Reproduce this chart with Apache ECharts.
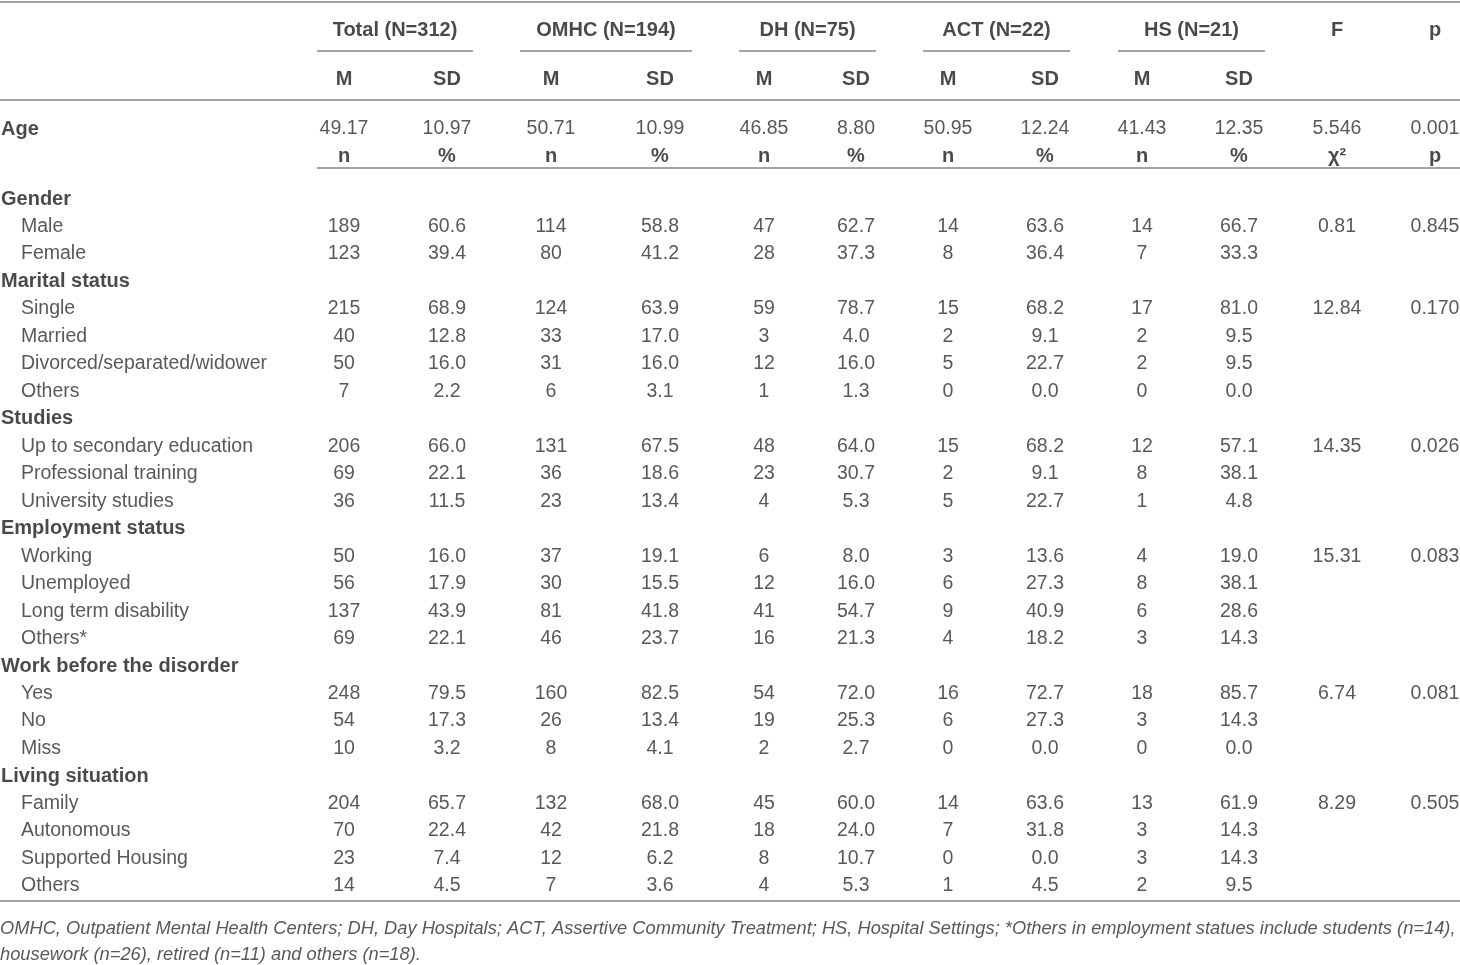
<!DOCTYPE html>
<html>
<head>
<meta charset="utf-8">
<script src="https://cdn.jsdelivr.net/npm/echarts@6/dist/echarts.min.js"></script>
<style>
  html, body { margin: 0; padding: 0; background: #fff; }
  #main { width: 1460px; height: 965px; }
</style>
</head>
<body>
<div id="main"></div>
<script>
// ---- data ----
const groupHeads = ["Total (N=312)", "OMHC (N=194)", "DH (N=75)", "ACT (N=22)", "HS (N=21)"];
const testHeads = ["F", "p"];
const statHeads = ["M", "SD", "M", "SD", "M", "SD", "M", "SD", "M", "SD"];
const countHeads = ["n", "%", "n", "%", "n", "%", "n", "%", "n", "%", "χ²", "p"];

const ageStats = [49.17, 10.97, 50.71, 10.99, 46.85, 8.8, 50.95, 12.24, 41.43, 12.35];
const ageF = 5.546;
const ageP = 0.001;

const rowLabels = [
  "Gender", "Male", "Female",
  "Marital status", "Single", "Married", "Divorced/separated/widower", "Others",
  "Studies", "Up to secondary education", "Professional training", "University studies",
  "Employment status", "Working", "Unemployed", "Long term disability", "Others*",
  "Work before the disorder", "Yes", "No", "Miss",
  "Living situation", "Family", "Autonomous", "Supported Housing", "Others"
];
const headingRows = ["Gender", "Marital status", "Studies", "Employment status", "Work before the disorder", "Living situation"];

const totalN   = [null, 189, 123, null, 215, 40, 50, 7, null, 206, 69, 36, null, 50, 56, 137, 69, null, 248, 54, 10, null, 204, 70, 23, 14];
const totalPct = [null, 60.6, 39.4, null, 68.9, 12.8, 16.0, 2.2, null, 66.0, 22.1, 11.5, null, 16.0, 17.9, 43.9, 22.1, null, 79.5, 17.3, 3.2, null, 65.7, 22.4, 7.4, 4.5];
const omhcN    = [null, 114, 80, null, 124, 33, 31, 6, null, 131, 36, 23, null, 37, 30, 81, 46, null, 160, 26, 8, null, 132, 42, 12, 7];
const omhcPct  = [null, 58.8, 41.2, null, 63.9, 17.0, 16.0, 3.1, null, 67.5, 18.6, 13.4, null, 19.1, 15.5, 41.8, 23.7, null, 82.5, 13.4, 4.1, null, 68.0, 21.8, 6.2, 3.6];
const dhN      = [null, 47, 28, null, 59, 3, 12, 1, null, 48, 23, 4, null, 6, 12, 41, 16, null, 54, 19, 2, null, 45, 18, 8, 4];
const dhPct    = [null, 62.7, 37.3, null, 78.7, 4.0, 16.0, 1.3, null, 64.0, 30.7, 5.3, null, 8.0, 16.0, 54.7, 21.3, null, 72.0, 25.3, 2.7, null, 60.0, 24.0, 10.7, 5.3];
const actN     = [null, 14, 8, null, 15, 2, 5, 0, null, 15, 2, 5, null, 3, 6, 9, 4, null, 16, 6, 0, null, 14, 7, 0, 1];
const actPct   = [null, 63.6, 36.4, null, 68.2, 9.1, 22.7, 0.0, null, 68.2, 9.1, 22.7, null, 13.6, 27.3, 40.9, 18.2, null, 72.7, 27.3, 0.0, null, 63.6, 31.8, 0.0, 4.5];
const hsN      = [null, 14, 7, null, 17, 2, 2, 0, null, 12, 8, 1, null, 4, 8, 6, 3, null, 18, 3, 0, null, 13, 3, 3, 2];
const hsPct    = [null, 66.7, 33.3, null, 81.0, 9.5, 9.5, 0.0, null, 57.1, 38.1, 4.8, null, 19.0, 38.1, 28.6, 14.3, null, 85.7, 14.3, 0.0, null, 61.9, 14.3, 14.3, 9.5];
const chiSq    = [null, 0.81, null, null, 12.84, null, null, null, null, 14.35, null, null, null, 15.31, null, null, null, null, 6.74, null, null, null, 8.29, null, null, null];
const chiP     = [null, 0.845, null, null, 0.170, null, null, null, null, 0.026, null, null, null, 0.083, null, null, null, null, 0.081, null, null, null, 0.505, null, null, null];

const footnote = [
  "OMHC, Outpatient Mental Health Centers; DH, Day Hospitals; ACT, Assertive Community Treatment; HS, Hospital Settings; *Others in employment statues include students (n=14),",
  "housework (n=26), retired (n=11) and others (n=18)."
];

// ---- layout ----
const W = 1460, H = 965;
const colX = [344, 447, 551, 660, 764, 856, 948, 1045, 1142, 1239, 1337, 1435];
const groupSpans = [[317, 473], [520, 692], [739, 876], [923, 1070], [1118, 1265]];
const headY = 30, subY = 79, ageY = 129, countY = 156;
const bodyTop = 199, rowStep = 27.48;
const footY = [929, 955];
const FONT = "'Liberation Sans', Arial, Helvetica, sans-serif";
const TEXT = "#2e2e2e";
const BOLD = "#1c1c1c";
const RULE = "#a3a3a3";

const columns = [
  { v: totalN, d: 0 }, { v: totalPct, d: 1 },
  { v: omhcN, d: 0 }, { v: omhcPct, d: 1 },
  { v: dhN, d: 0 }, { v: dhPct, d: 1 },
  { v: actN, d: 0 }, { v: actPct, d: 1 },
  { v: hsN, d: 0 }, { v: hsPct, d: 1 },
  { v: chiSq, d: 2 }, { v: chiP, d: 3 }
];

const cells = [];
const cell = (text, x, y, opts = {}) => {
  cells.push({
    name: text,
    value: [x, y],
    label: {
      align: opts.align || "center",
      fontWeight: opts.bold ? "bold" : "normal",
      fontStyle: opts.italic ? "italic" : "normal",
      fontSize: opts.size || (opts.bold ? 20 : 19.5),
      color: opts.bold ? BOLD : TEXT
    }
  });
};

groupHeads.forEach((g, i) => cell(g, (groupSpans[i][0] + groupSpans[i][1]) / 2, headY, { bold: true }));
testHeads.forEach((t, i) => cell(t, colX[10 + i], headY, { bold: true }));
statHeads.forEach((s, i) => cell(s, colX[i], subY, { bold: true }));

cell("Age", 1, ageY, { align: "left", bold: true });
ageStats.forEach((v, i) => cell(v.toFixed(2), colX[i], ageY));
cell(ageF.toFixed(3), colX[10], ageY);
cell(ageP.toFixed(3), colX[11], ageY);
countHeads.forEach((s, i) => cell(s, colX[i], countY, { bold: true }));

rowLabels.forEach((label, r) => {
  const y = bodyTop + r * rowStep;
  if (headingRows.includes(label)) {
    cell(label, 1, y, { align: "left", bold: true });
    return;
  }
  cell(label, 21, y, { align: "left" });
  columns.forEach((c, i) => {
    const v = c.v[r];
    if (v !== null && v !== undefined) cell(v.toFixed(c.d), colX[i], y);
  });
});

footnote.forEach((t, i) => cell(t, 0, footY[i], { align: "left", italic: true, size: 18.3 }));

const rules = [
  [0, W, 1.5],
  ...groupSpans.map((s) => [s[0], s[1], 51]),
  [0, W, 100],
  [317, W, 168],
  [0, W, 901]
];

const chart = echarts.init(document.getElementById("main"));
chart.setOption({
  animation: false,
  backgroundColor: "#fff",
  textStyle: { fontFamily: FONT },
  grid: { left: 0, right: 0, top: 0, bottom: 0 },
  xAxis: { type: "value", min: 0, max: W, show: false },
  yAxis: { type: "value", min: 0, max: H, inverse: true, show: false },
  series: [
    {
      type: "lines",
      coordinateSystem: "cartesian2d",
      silent: true,
      lineStyle: { color: RULE, width: 2, opacity: 1 },
      data: rules.map((r) => ({ coords: [[r[0], r[2]], [r[1], r[2]]] }))
    },
    {
      type: "scatter",
      silent: true,
      symbolSize: 1,
      itemStyle: { color: "rgba(0,0,0,0)" },
      label: {
        show: true,
        position: "inside",
        verticalAlign: "middle",
        formatter: "{b}",
        fontFamily: FONT
      },
      labelLayout: { hideOverlap: false },
      data: cells
    }
  ]
});
</script>
</body>
</html>
